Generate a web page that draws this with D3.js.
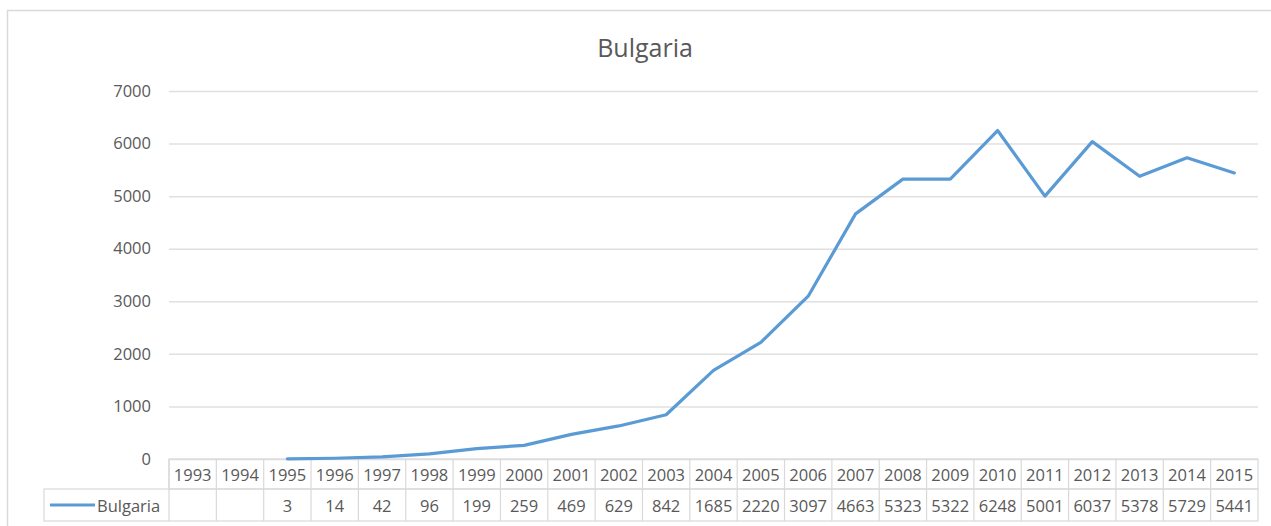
<!DOCTYPE html>
<html>
<head>
<meta charset="utf-8">
<script src="https://cdn.jsdelivr.net/npm/d3@7"></script>
<style>
    body { margin: 0; background: #fff; }
    svg { display: block; font-family: "Open Sans", sans-serif; }
</style>
</head>
<body>
<svg id="chart"></svg>
<script>
(function () {
    const years = ['1993', '1994', '1995', '1996', '1997', '1998', '1999', '2000', '2001', '2002', '2003',
        '2004', '2005', '2006', '2007', '2008', '2009', '2010', '2011', '2012', '2013', '2014', '2015'];
    const bulgaria = [null, null, 3, 14, 42, 96, 199, 259, 469, 629, 842,
        1685, 2220, 3097, 4663, 5323, 5322, 6248, 5001, 6037, 5378, 5729, 5441];
    const yTicks = [0, 1000, 2000, 3000, 4000, 5000, 6000, 7000];
    const seriesName = 'Bulgaria';

    const W = 1271, H = 526;
    const left = 169, right = 1258, top = 91, bottom = 459;
    const rowH = 30, legendLeft = 44;
    const textColor = '#595959', lineColor = '#d9d9d9', seriesColor = '#5b9bd5';
    const fontSize = '16.5px';

    const svg = d3.select('#chart').attr('width', W).attr('height', H);

    // chart area border
    svg.append('rect')
        .attr('x', 7.5).attr('y', 10.5)
        .attr('width', W + 10).attr('height', H + 10)
        .attr('fill', 'none').attr('stroke', lineColor).attr('stroke-width', 1.5);

    svg.append('text')
        .attr('x', 645).attr('y', 47)
        .attr('text-anchor', 'middle').attr('dominant-baseline', 'central')
        .attr('fill', textColor).style('font-size', '25px')
        .text(seriesName);

    const x = d3.scaleBand().domain(years).range([left, right]);
    const y = d3.scaleLinear().domain([0, 7000]).range([bottom, top]);

    // gridlines
    const grid = svg.append('g')
        .attr('transform', `translate(${left},0)`)
        .call(d3.axisLeft(y).tickValues(yTicks).tickSize(-(right - left)).tickFormat(''));
    grid.select('.domain').remove();
    grid.selectAll('line').attr('stroke', '#e0e0e0').attr('stroke-width', 1.5);

    // y labels
    const yAxis = svg.append('g')
        .attr('transform', 'translate(151,0)')
        .call(d3.axisLeft(y).tickValues(yTicks).tickSize(0).tickPadding(0).tickFormat(d3.format('d')));
    yAxis.select('.domain').remove();
    yAxis.selectAll('text')
        .attr('fill', textColor).style('font-size', fontSize).style('font-family', '"Open Sans", sans-serif');

    // data table
    const table = svg.append('g');
    const headerTop = bottom, dataTop = bottom + rowH, dataBottom = bottom + rowH * 2 + 2;

    table.append('rect')
        .attr('x', left).attr('y', headerTop)
        .attr('width', right - left).attr('height', rowH)
        .attr('fill', 'none').attr('stroke', lineColor).attr('stroke-width', 1.2);
    table.append('rect')
        .attr('x', legendLeft).attr('y', dataTop)
        .attr('width', right - legendLeft).attr('height', dataBottom - dataTop)
        .attr('fill', 'none').attr('stroke', lineColor).attr('stroke-width', 1.2);

    table.selectAll('line.col')
        .data(years)
        .join('line')
        .attr('class', 'col')
        .attr('x1', d => x(d)).attr('x2', d => x(d))
        .attr('y1', headerTop).attr('y2', dataBottom)
        .attr('stroke', lineColor).attr('stroke-width', 1.2);

    table.selectAll('text.year')
        .data(years)
        .join('text')
        .attr('class', 'year')
        .attr('x', d => x(d) + x.bandwidth() / 2)
        .attr('y', headerTop + rowH / 2)
        .attr('text-anchor', 'middle').attr('dominant-baseline', 'central')
        .attr('fill', textColor).style('font-size', fontSize)
        .text(d => d);

    table.selectAll('text.val')
        .data(years.map((yr, i) => ({ yr, v: bulgaria[i] })).filter(d => d.v != null))
        .join('text')
        .attr('class', 'val')
        .attr('x', d => x(d.yr) + x.bandwidth() / 2)
        .attr('y', dataTop + (dataBottom - dataTop) / 2)
        .attr('text-anchor', 'middle').attr('dominant-baseline', 'central')
        .attr('fill', textColor).style('font-size', fontSize)
        .text(d => d.v);

    // legend key inside the table
    const legendY = dataTop + (dataBottom - dataTop) / 2;
    table.append('line')
        .attr('x1', 50).attr('x2', 95)
        .attr('y1', legendY).attr('y2', legendY)
        .attr('stroke', seriesColor).attr('stroke-width', 3.2);
    table.append('text')
        .attr('x', 97).attr('y', legendY)
        .attr('dominant-baseline', 'central')
        .attr('fill', textColor).style('font-size', fontSize)
        .text(seriesName);

    // series line
    const points = years.map((yr, i) => ({ yr, v: bulgaria[i] }));
    const line = d3.line()
        .defined(d => d.v != null)
        .x(d => x(d.yr) + x.bandwidth() / 2)
        .y(d => y(d.v));

    svg.append('path')
        .datum(points)
        .attr('d', line)
        .attr('fill', 'none')
        .attr('stroke', seriesColor)
        .attr('stroke-width', 3.2)
        .attr('stroke-linejoin', 'round')
        .attr('stroke-linecap', 'round');
})();
</script>
</body>
</html>
